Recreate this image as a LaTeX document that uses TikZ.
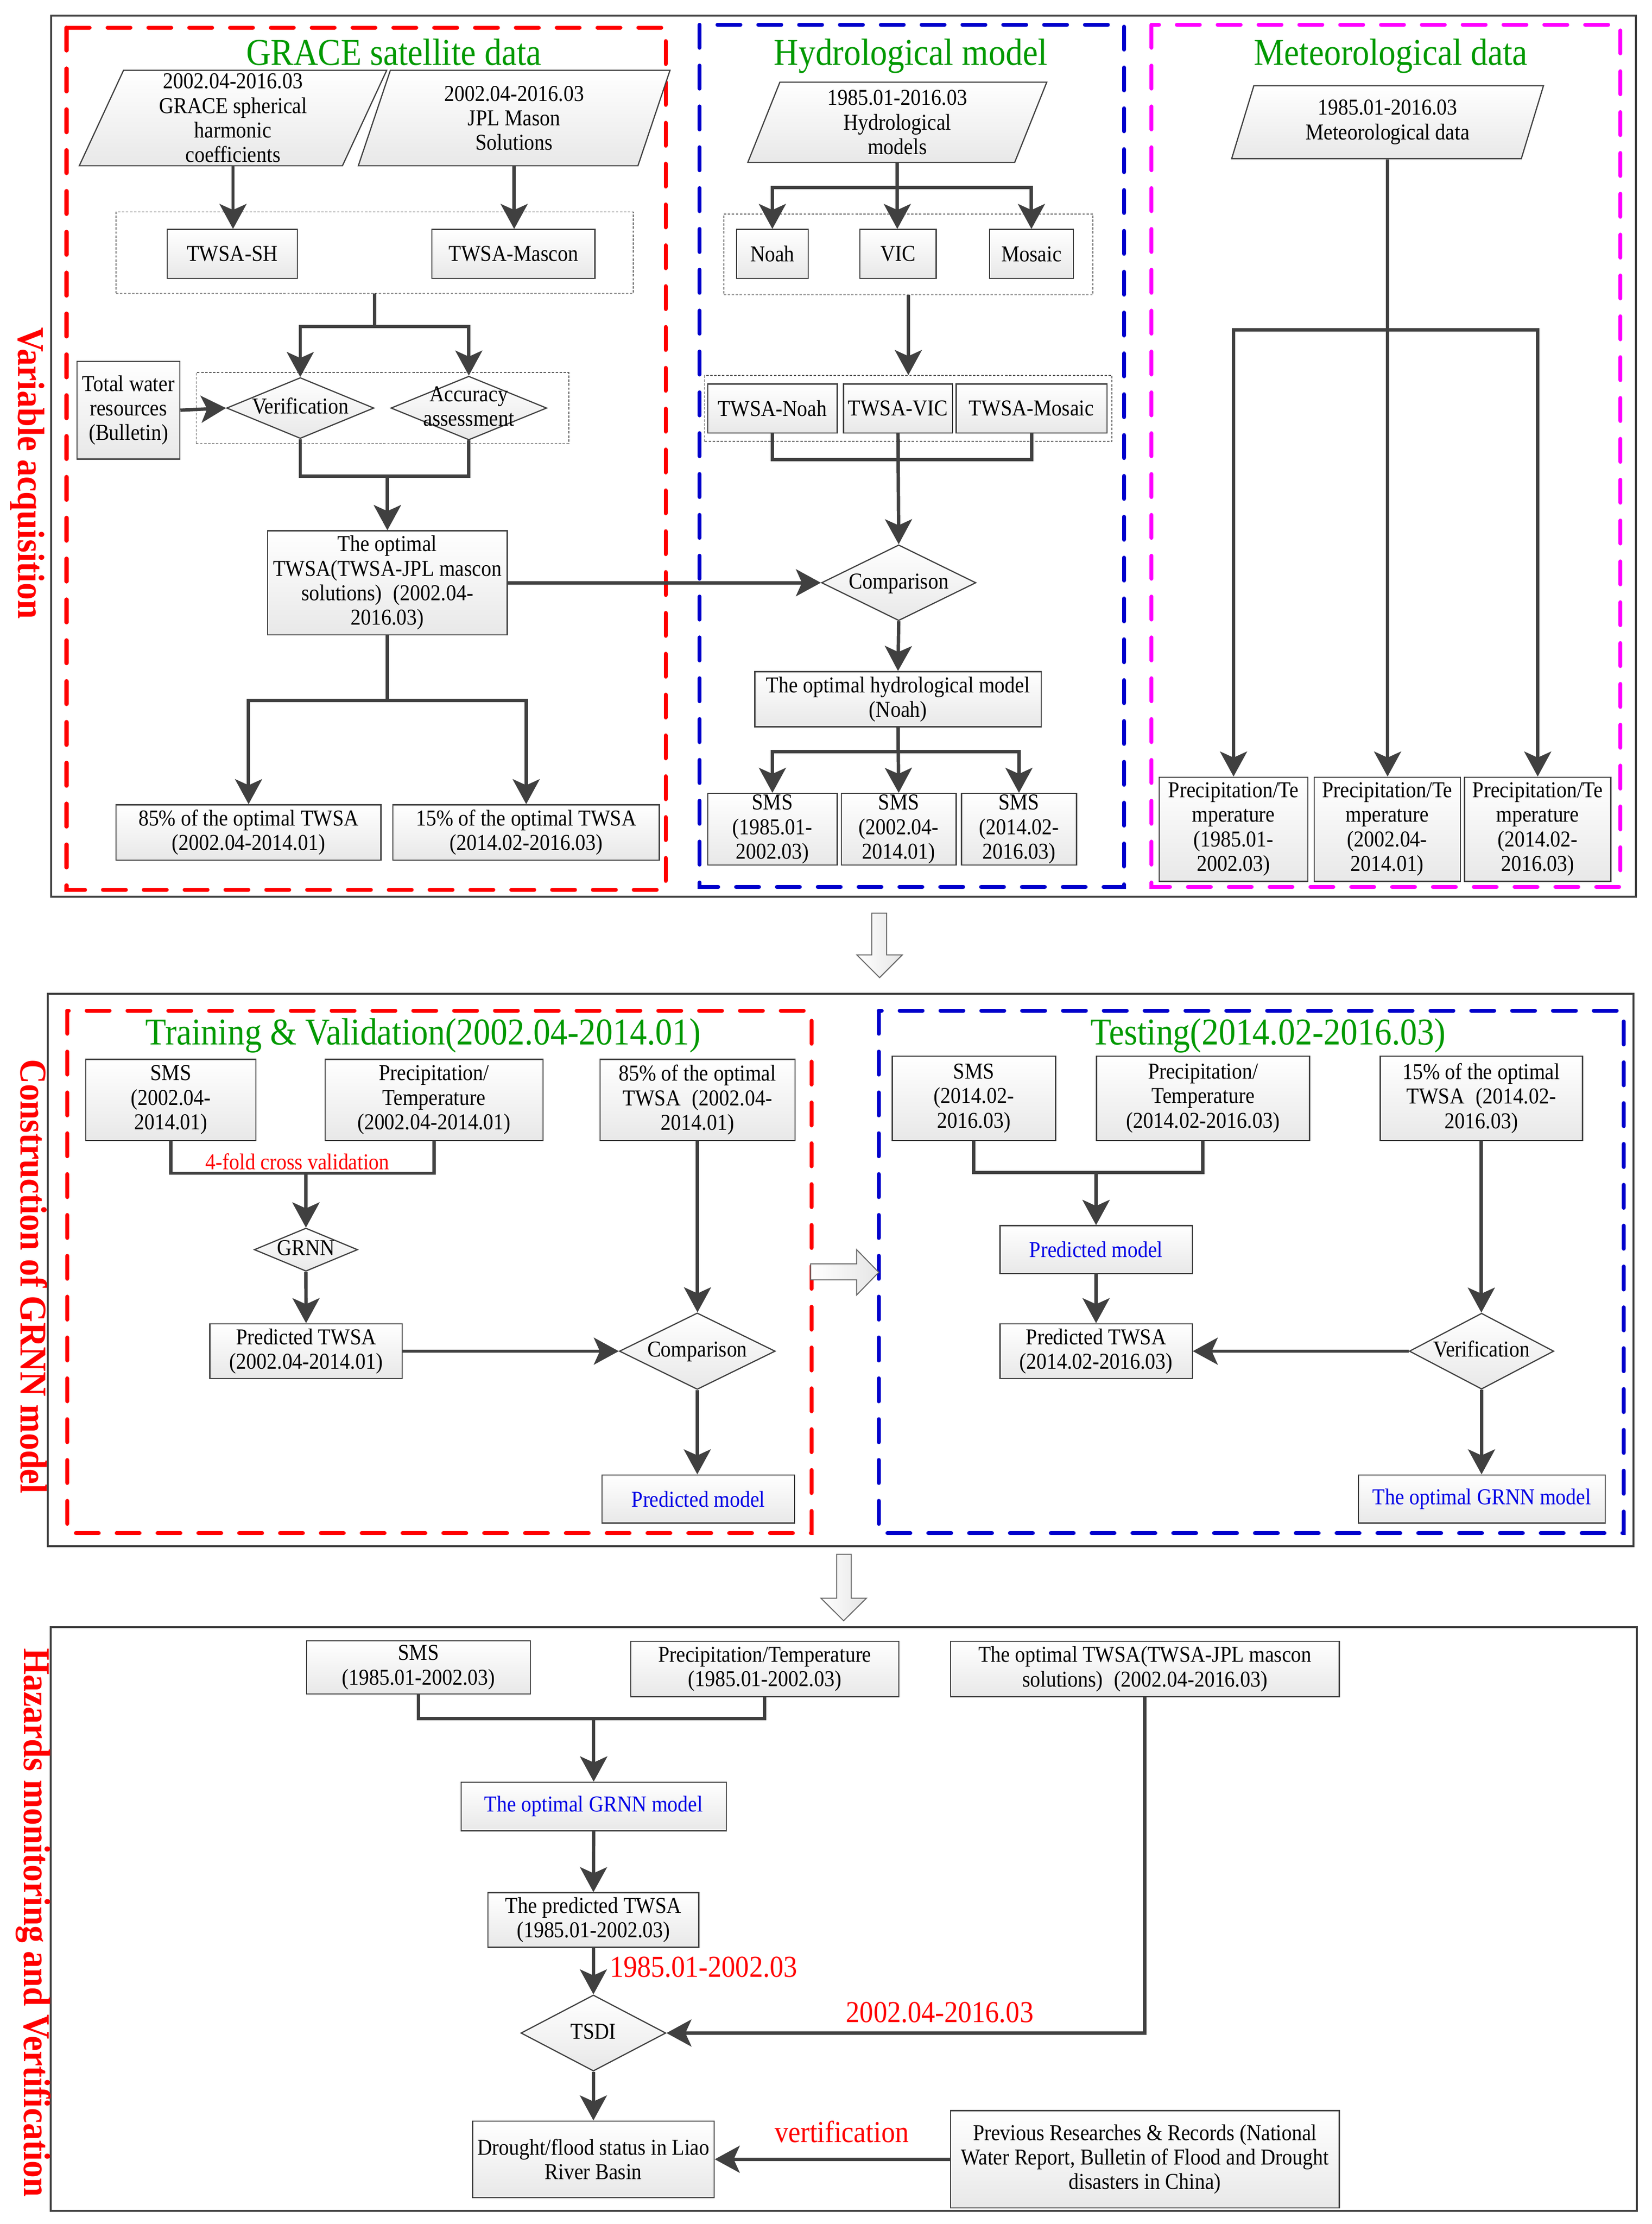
\documentclass[tikz,border=0pt]{standalone}
\usepackage{fontspec}
\setmainfont{Liberation Serif}[FakeStretch=0.9]
\usetikzlibrary{shapes.geometric, arrows.meta}
\definecolor{boxgray}{RGB}{64,64,64}
\definecolor{linegray}{RGB}{64,64,64}
\definecolor{titlegreen}{RGB}{0,153,0}
\definecolor{zonered}{RGB}{255,0,0}
\definecolor{zoneblue}{RGB}{0,0,204}
\definecolor{zonemag}{RGB}{255,0,255}
\definecolor{textblue}{RGB}{0,0,230}
\newcommand{\boxfont}{\fontsize{11.4}{12.3}\selectfont}
\newcommand{\dtxt}[1]{\raisebox{-3.2pt}[0pt][0pt]{\makebox[0pt]{\begin{tabular}{@{}c@{}}#1\end{tabular}}}}

\begin{document}
\begin{tikzpicture}[x=0.025cm, y=-0.025cm,
  boxlook/.style={draw=boxgray, line width=0.6pt, top color=white, bottom color=black!9, font=\boxfont},
  box/.style={boxlook, rectangle, align=center, inner sep=1pt},
  dbox/.style={boxlook, diamond, inner sep=0pt},
  pbox/.style={boxlook, trapezium, trapezium left angle=63.5, trapezium right angle=116.5, trapezium stretches body, align=center, inner sep=0pt},
  grp/.style={draw=black!65, line width=0.4pt, dash pattern=on 1.2pt off 0.8pt},
  frame/.style={draw=boxgray, line width=1pt},
  zone/.style={line width=2pt, dash pattern=on 11.5pt off 9pt, line cap=round},
  arr/.style={draw=linegray, line width=1.7pt, -{Stealth[length=12.5pt, width=13.5pt, inset=3pt]}},
  link/.style={draw=linegray, line width=1.7pt},
  title/.style={text=titlegreen, font=\fontsize{19}{22}\selectfont, anchor=base},
  side/.style={text=zonered, font=\bfseries\fontsize{19}{22}\selectfont, rotate=-90},
  note/.style={text=zonered, font=\fontsize{15.3}{18}\selectfont, anchor=base west},
  hollow/.style={draw=black!60, line width=0.5pt, left color=white, right color=black!10}]

  \useasboundingbox (0,0) rectangle (1166,1569.7);

  % Variable acquisition
  \draw[frame] (36,11) rectangle (1155,633);
  \draw[zone, draw=zonered] (47,19.5) rectangle (470,628);
  \draw[zone, draw=zoneblue] (494,17.5) rectangle (793.5,626);
  \draw[zone, draw=zonemag] (813,17.5) rectangle (1144,626);
  \node[side] (labvar) at (19.5,334) {Variable acquisition};
  \node[title] (tgrace) at (278,46) {GRACE satellite data};
  \node[title] (thydro) at (642.9,46) {Hydrological model};
  \node[title] (tmeteo) at (981.9,46) {Meteorological data};

  % GRACE satellite data
  \node[pbox, minimum width=5.425cm, minimum height=1.685cm] (shc) at (164.5,83.3) {2002.04-2016.03\\GRACE spherical\\harmonic\\coefficients};
  \node[pbox, minimum width=5.5cm, minimum height=1.685cm] (jpl) at (363,83.3) {2002.04-2016.03\\JPL Mason\\Solutions};
  \node[grp, minimum width=9.125cm, minimum height=1.4375cm] (gsol) at (264.5,178.25) {};
  \node[box, minimum width=2.3cm, minimum height=0.8625cm] (twsh) at (164,179.25) {TWSA-SH};
  \node[box, minimum width=2.875cm, minimum height=0.8625cm] (twmc) at (362.5,179.25) {TWSA-Mascon};
  \node[grp, minimum width=6.575cm, minimum height=1.25cm] (gchk) at (270,288) {};
  \node[dbox, minimum width=2.6cm, minimum height=1.075cm] (verif) at (212,288) {\dtxt{Verification}};
  \node[dbox, minimum width=2.75cm, minimum height=1.125cm] (accu) at (331,288) {\dtxt{Accuracy\\assessment}};
  \node[box, minimum width=1.815cm, minimum height=1.725cm] (bull) at (90.7,289.5) {Total water\\resources\\(Bulletin)};
  \node[box, minimum width=4.225cm, minimum height=1.835cm] (optw) at (273.5,411.3) {The optimal\\TWSA(TWSA-JPL mascon\\solutions)\enspace(2002.04-\\2016.03)};
  \node[box, minimum width=4.675cm, minimum height=0.975cm] (tr85) at (175.5,587.5) {85\% of the optimal TWSA\\(2002.04-2014.01)};
  \node[box, minimum width=4.7cm, minimum height=0.975cm] (te15) at (371.5,587.5) {15\% of the optimal TWSA\\(2014.02-2016.03)};

  \draw[arr] (shc.south) -- (shc.south |- twsh.north);
  \draw[arr] (jpl.south) -- (jpl.south |- twmc.north);
  \draw[arr] (gsol.south) -- ++(0,23) -| (verif.north);
  \draw[arr] (gsol.south) -- ++(0,23) -| (accu.north);
  \draw[arr] (bull.east) -- (verif.west);
  \draw[arr] (verif.south) -- ++(0,26) -| (optw.north);
  \draw[arr] (accu.south) -- ++(0,25) -| (optw.north);
  \draw[arr] (optw.south) -- ++(0,46) -| (tr85.north);
  \draw[arr] (optw.south) -- ++(0,46) -| (te15.north);

  % Hydrological model
  \node[pbox, minimum width=5.275cm, minimum height=1.415cm] (hmod) at (633.5,86.3) {1985.01-2016.03\\Hydrological\\models};
  \node[grp, minimum width=6.515cm, minimum height=1.425cm] (glsm) at (641.3,179.5) {};
  \node[box, minimum width=1.265cm, minimum height=0.8625cm] (noah) at (545.3,179.25) {Noah};
  \node[box, minimum width=1.35cm, minimum height=0.8625cm] (vic) at (634,179.25) {VIC};
  \node[box, minimum width=1.4825cm, minimum height=0.8625cm] (mosc) at (728.2,179.25) {Mosaic};
  \node[grp, minimum width=7.1875cm, minimum height=1.16cm] (gtws) at (641.25,288.2) {};
  \node[box, minimum width=2.2825cm, minimum height=0.865cm] (twno) at (545.35,288.3) {TWSA-Noah};
  \node[box, minimum width=1.92cm, minimum height=0.865cm] (twvi) at (634,288.3) {TWSA-VIC};
  \node[box, minimum width=2.6625cm, minimum height=0.865cm] (twmo) at (728.25,288.3) {TWSA-Mosaic};
  \node[dbox, minimum width=2.725cm, minimum height=1.3375cm] (cmph) at (634.5,411.3) {\dtxt{Comparison}};
  \node[box, minimum width=5.05cm, minimum height=0.975cm] (ohm) at (634,493.5) {The optimal hydrological model\\(Noah)};
  \node[box, minimum width=2.2825cm, minimum height=1.265cm, inner sep=0.5pt] (sms1) at (545.35,585.3) {SMS\\(1985.01-\\2002.03)};
  \node[box, minimum width=2.025cm, minimum height=1.265cm, inner sep=0.5pt] (sms2) at (634.5,585.3) {SMS\\(2002.04-\\2014.01)};
  \node[box, minimum width=2.03cm, minimum height=1.265cm, inner sep=0.5pt] (sms3) at (719.4,585.3) {SMS\\(2014.02-\\2016.03)};

  \draw[arr] (hmod.south) -- ++(0,17.4) -| (noah.north);
  \draw[arr] (hmod.south) -- (hmod.south |- vic.north);
  \draw[arr] (hmod.south) -- ++(0,17.4) -| (mosc.north);
  \draw[arr] (glsm.south) -- (glsm.south |- gtws.north);
  \draw[link] (twno.south) -- ++(0,18.4) -| (twmo.south);
  \draw[arr] (twvi.south) -- (cmph.north);
  \draw[arr] (optw.east) -- (cmph.west);
  \draw[arr] (cmph.south) -- (ohm.north);
  \draw[arr] (ohm.south) -- ++(0,17) -| (sms1.north);
  \draw[arr] (ohm.south) -- (sms2.north);
  \draw[arr] (ohm.south) -- ++(0,17) -| (sms3.north);

  % Meteorological data
  \node[pbox, minimum width=5.5025cm, minimum height=1.2875cm] (meteo) at (979.65,86.25) {1985.01-2016.03\\Meteorological data};
  \node[box, minimum width=2.62cm, minimum height=1.8375cm] (pt1) at (870.9,585.25) {Precipitation/Te\\mperature\\(1985.01-\\2002.03)};
  \node[box, minimum width=2.58cm, minimum height=1.8375cm] (pt2) at (979.4,585.25) {Precipitation/Te\\mperature\\(2002.04-\\2014.01)};
  \node[box, minimum width=2.5825cm, minimum height=1.8375cm] (pt3) at (1085.65,585.25) {Precipitation/Te\\mperature\\(2014.02-\\2016.03)};

  \draw[arr] (meteo.south) -- ++(0,120.5) -| (pt1.north);
  \draw[arr] (meteo.south) -- (meteo.south |- pt2.north);
  \draw[arr] (meteo.south) -- ++(0,120.5) -| (pt3.north);

  \draw[hollow] (615.5,644.5) -- (626,644.5) -- (626,674) -- (637,674) -- (621,690) -- (605,674) -- (615.5,674) -- cycle;

  % Construction of GRNN model
  \draw[frame] (33.6,701.5) rectangle (1153.4,1091.4);
  \draw[zone, draw=zonered] (47.4,713.4) rectangle (573,1082);
  \draw[zone, draw=zoneblue] (620.4,713.4) rectangle (1146.5,1082);
  \node[side] (labgrnn) at (24,901) {Construction of GRNN model};
  \node[title] (ttrain) at (298.8,737.3) {Training \& Validation(2002.04-2014.01)};
  \node[title] (ttest) at (895.3,737.3) {Testing(2014.02-2016.03)};

  % Training & Validation
  \node[box, minimum width=3.005cm, minimum height=1.43cm] (vsms) at (120.6,776.3) {SMS\\(2002.04-\\2014.01)};
  \node[box, minimum width=3.845cm, minimum height=1.43cm] (vpt) at (306.4,776.3) {Precipitation/\\Temperature\\(2002.04-2014.01)};
  \node[box, minimum width=3.4425cm, minimum height=1.43cm] (v85) at (492.45,776.3) {85\% of the optimal\\TWSA\enspace(2002.04-\\2014.01)};
  \node[text=zonered, font=\boxfont, anchor=base] (kfold) at (210,825.5) {4-fold cross validation};
  \node[dbox, minimum width=1.825cm, minimum height=0.7625cm] (grnn) at (216,882) {\dtxt{GRNN}};
  \node[box, minimum width=3.395cm, minimum height=0.9675cm] (vpred) at (216.1,953.65) {Predicted TWSA\\(2002.04-2014.01)};
  \node[dbox, minimum width=2.75cm, minimum height=1.35cm] (vcmp) at (492.3,953.65) {\dtxt{Comparison}};
  \node[box, minimum width=3.4cm, minimum height=0.85cm, text=textblue] (vmod) at (493,1058) {Predicted model};

  \draw[arr] (vsms.south) -- ++(0,22.7) -| (grnn.north);
  \draw[arr] (vpt.south) -- ++(0,22.7) -| (grnn.north);
  \draw[arr] (grnn.south) -- (vpred.north);
  \draw[arr] (vpred.east) -- (vcmp.west);
  \draw[arr] (v85.south) -- (v85.south |- vcmp.north);
  \draw[arr] (vcmp.south) -- (vcmp.south |- vmod.north);

  \draw[hollow] (572.4,892) -- (604.8,892) -- (604.8,882) -- (620.4,898) -- (604.8,914) -- (604.8,903.3) -- (572.4,903.3) -- cycle;

  % Testing
  \node[box, minimum width=2.88cm, minimum height=1.49cm] (tsms) at (687.6,775.2) {SMS\\(2014.02-\\2016.03)};
  \node[box, minimum width=3.7575cm, minimum height=1.49cm] (tpt) at (849.35,775.2) {Precipitation/\\Temperature\\(2014.02-2016.03)};
  \node[box, minimum width=3.5675cm, minimum height=1.49cm] (t15) at (1045.85,775.2) {15\% of the optimal\\TWSA\enspace(2014.02-\\2016.03)};
  \node[box, minimum width=3.3925cm, minimum height=0.85cm, text=textblue] (tmod) at (773.85,882) {Predicted model};
  \node[box, minimum width=3.3925cm, minimum height=0.9675cm] (tpred) at (773.85,953.65) {Predicted TWSA\\(2014.02-2016.03)};
  \node[dbox, minimum width=2.55cm, minimum height=1.34cm] (tver) at (1046,953.65) {\dtxt{Verification}};
  \node[box, minimum width=4.35cm, minimum height=0.85cm, text=textblue] (tbest) at (1046.2,1058) {The optimal GRNN model};

  \draw[arr] (tsms.south) -- ++(0,22.1) -| (tmod.north);
  \draw[arr] (tpt.south) -- ++(0,22.1) -| (tmod.north);
  \draw[arr] (tmod.south) -- (tpred.north);
  \draw[arr] (t15.south) -- (t15.south |- tver.north);
  \draw[arr] (tver.west) -- (tpred.east);
  \draw[arr] (tver.south) -- (tver.south |- tbest.north);

  \draw[hollow] (590.7,1097) -- (601,1097) -- (601,1128) -- (611.7,1128) -- (595.6,1143.9) -- (579.6,1128) -- (590.7,1128) -- cycle;

  % Hazards monitoring and Vertification
  \draw[frame] (35.8,1148.4) rectangle (1155.7,1560.3);
  \node[side] (labhaz) at (23.5,1357) {Hazards monitoring and Vertification};
  \node[box, minimum width=3.9475cm, minimum height=0.94cm] (hsms) at (295.45,1176.8) {SMS\\(1985.01-2002.03)};
  \node[box, minimum width=4.7325cm, minimum height=0.9725cm] (hpt) at (539.95,1177.95) {Precipitation/Temperature\\(1985.01-2002.03)};
  \node[box, minimum width=6.8575cm, minimum height=0.9725cm] (htws) at (808.35,1177.95) {The optimal TWSA(TWSA-JPL mascon\\solutions)\enspace(2002.04-2016.03)};
  \node[box, minimum width=4.6825cm, minimum height=0.8575cm, text=textblue] (hbest) at (419.15,1274.95) {The optimal GRNN model};
  \node[box, minimum width=3.7225cm, minimum height=0.9625cm] (hpred) at (418.95,1355.15) {The predicted TWSA\\(1985.01-2002.03)};
  \node[dbox, minimum width=2.5575cm, minimum height=1.3425cm] (tsdi) at (418.95,1434.9) {\dtxt{TSDI}};
  \node[box, minimum width=4.2625cm, minimum height=1.35cm] (stat) at (418.95,1524) {Drought/flood status in Liao\\River Basin};
  \node[box, minimum width=6.8575cm, minimum height=1.7175cm] (recs) at (808.35,1524) {Previous Researches \& Records (National\\Water Report, Bulletin of Flood and Drought\\disasters in China)};

  \draw[arr] (hsms.south) -- ++(0,17) -| (hbest.north);
  \draw[arr] (hpt.south) -- ++(0,15.2) -| (hbest.north);
  \draw[arr] (hbest.south) -- (hpred.north);
  \draw[arr] (hpred.south) -- (tsdi.north);
  \draw[arr] (tsdi.south) -- (stat.north);
  \draw[arr] (htws.south) |- (tsdi.east);
  \draw[arr] (recs.west) -- (stat.east);

  \node[note] (ppred) at (425.6,1395.4) {1985.01-2002.03};
  \node[note] (pobs) at (592.4,1427.4) {2002.04-2016.03};
  \node[note] (pver) at (542,1512) {vertification};
\end{tikzpicture}
\end{document}
